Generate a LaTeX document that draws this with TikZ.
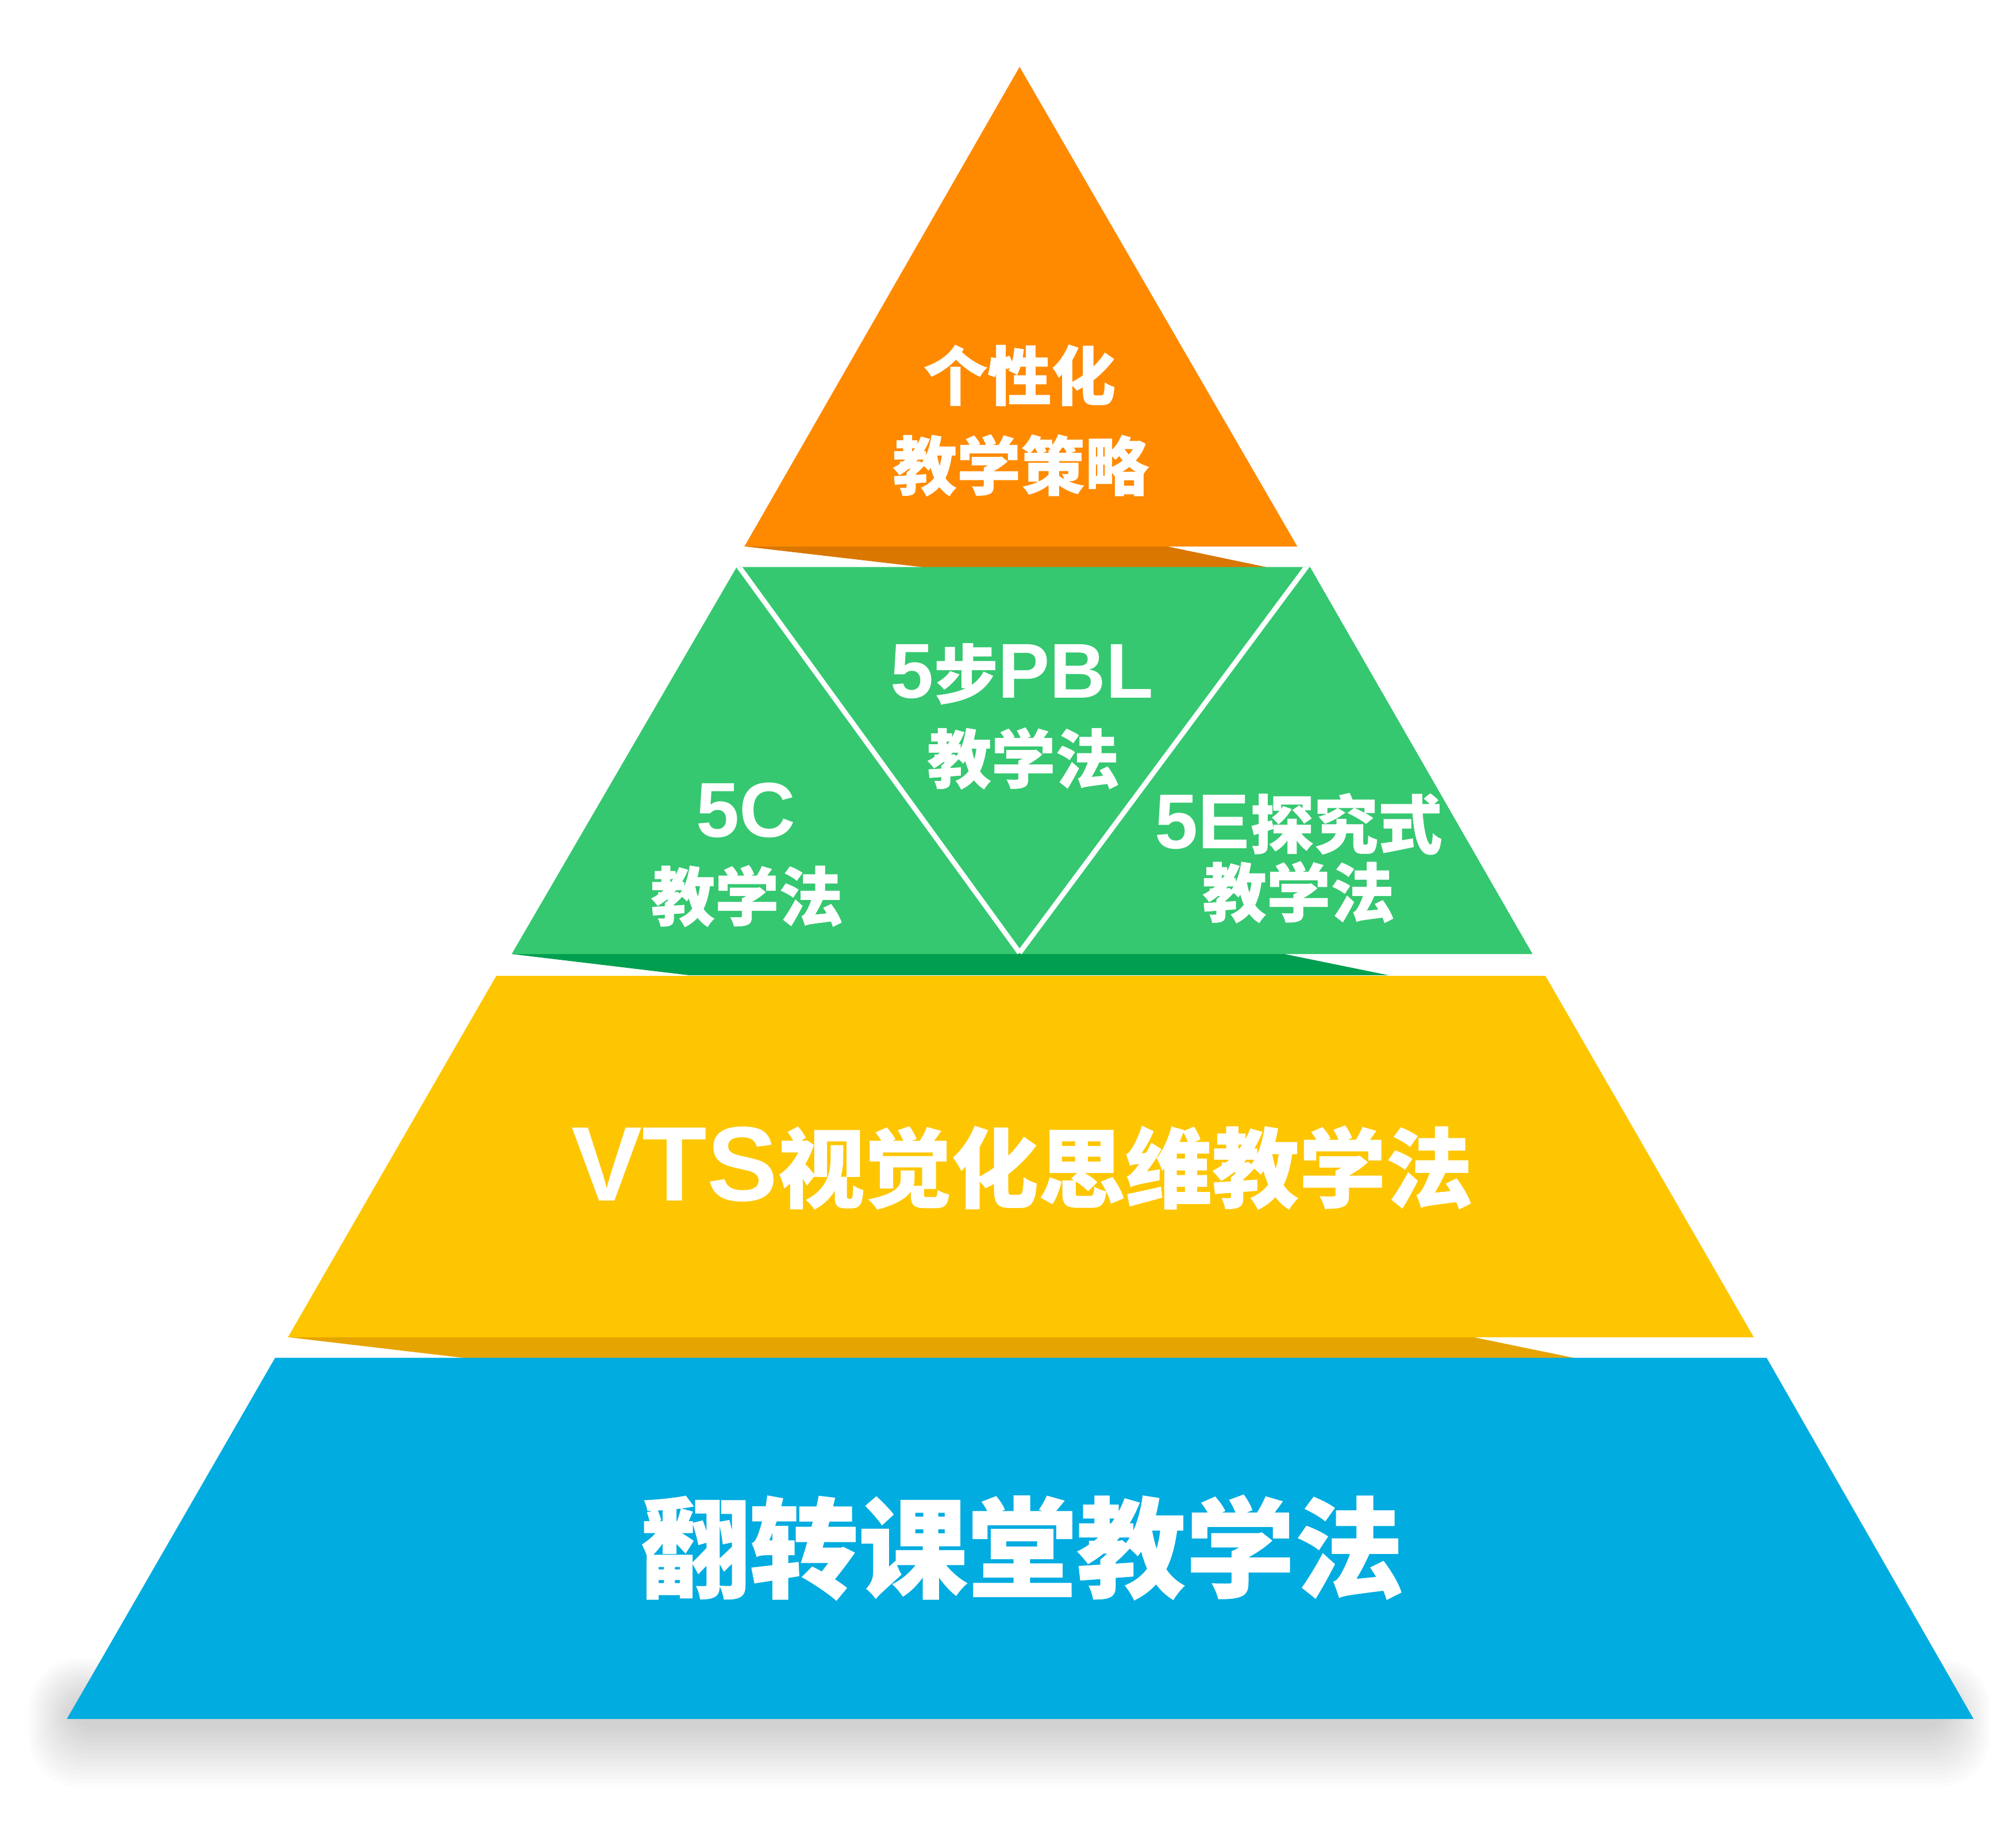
\documentclass[tikz,border=0pt]{standalone}
\usepackage{fontspec}
\usetikzlibrary{calc}
\newfontfamily\hanzfont{Noto Sans CJK SC}[BoldFeatures={FakeBold=0.6}]
\newfontfamily\latnfont{Liberation Sans}
\newcommand{\hz}[1]{{\hanzfont\bfseries #1}}
\newcommand{\lt}[1]{{\latnfont\bfseries #1}}
\definecolor{cOrange}{HTML}{FF8A00}
\definecolor{cOrangeD}{HTML}{D97700}
\definecolor{cGreen}{HTML}{35C870}
\definecolor{cGreenD}{HTML}{009E4F}
\definecolor{cYellow}{HTML}{FEC600}
\definecolor{cYellowD}{HTML}{E6A400}
\definecolor{cBlue}{HTML}{00ACE0}
\begin{document}
\begin{tikzpicture}[x=0.022372cm, y=-0.022372cm,
  txt/.style={text=white, inner sep=0pt, anchor=base},
  fsmall/.style={font=\fontsize{31.7}{36}\selectfont},
  flatin/.style={font=\fontsize{38.5}{44}\selectfont},
  divline/.style={white, line width=2.5pt}]
\useasboundingbox (0,0) rectangle (1568,1427.2);
% soft shadow under the base
\foreach \i in {0,...,14}{
  \pgfmathsetmacro{\t}{\i/14}
  \pgfmathsetmacro{\l}{22+33*\t}
  \pgfmathsetmacro{\r}{1548-33*\t}
  \pgfmathsetmacro{\tp}{1290+30*\t}
  \pgfmathsetmacro{\bt}{1390-45*\t}
  \pgfmathsetmacro{\rc}{25-12*\t}
  \fill[black, opacity=0.012, rounded corners=\rc pt] (\l,\tp) rectangle (\r,\bt);
}
% layer shadows
\fill[cOrangeD] (579,425) -- (908,425) -- (987,441.5) -- (721,441.5) -- cycle;
\fill[cGreenD] (398,742) -- (999,742) -- (1080,758.5) -- (536,758.5) -- cycle;
\fill[cYellowD] (224,1040) -- (1146,1040) -- (1226,1056.5) -- (364,1056.5) -- cycle;
% layers
\fill[cOrange] (793,52) -- (1009,425) -- (579,425) -- cycle;
\begin{scope}
  \clip (573,441) -- (1019,441) -- (1192,742) -- (398,742) -- cycle;
  \fill[cGreen] (573,441) -- (1019,441) -- (1192,742) -- (398,742) -- cycle;
  \coordinate (gtl) at (572,437);
  \coordinate (gtr) at (1019,437);
  \coordinate (gtip) at (793,741);
  \draw[divline] (gtl) -- (gtip);
  \draw[divline] (gtr) -- (gtip);
\end{scope}
\fill[cYellow] (386,759) -- (1202,759) -- (1364,1040) -- (224,1040) -- cycle;
\fill[cBlue] (214,1056) -- (1374,1056) -- (1535,1337) -- (52,1337) -- cycle;
% texts
\node[txt, fsmall] (t1) at (793,311) {\hz{个性化}};
\node[txt, fsmall] (t2) at (794,381) {\hz{教学策略}};
\node[txt, flatin] (t3) at (795,543) {\lt{5}\hz{\fontsize{31.7}{36}\selectfont 步}\lt{PBL}};
\node[txt, fsmall] (t4) at (796,609) {\hz{教学法}};
\node[txt, flatin] (t5) at (580,651) {\lt{5C}};
\node[txt, fsmall] (t6) at (581,716) {\hz{教学法}};
\node[txt, flatin] (t7) at (1010,660) {\lt{5E}\hz{\fontsize{31.7}{36}\selectfont 探究式}};
\node[txt, fsmall] (t8) at (1010,713) {\hz{教学法}};
\node[txt, font=\fontsize{52.5}{58}\selectfont] (t9) at (795,934) {\lt{VTS}\hz{\fontsize{43}{50}\selectfont 视觉化思维教学法}};
\node[txt, font=\fontsize{54}{60}\selectfont] (t10) at (795,1236) {\hz{翻转课堂教学法}};
\end{tikzpicture}
\end{document}
